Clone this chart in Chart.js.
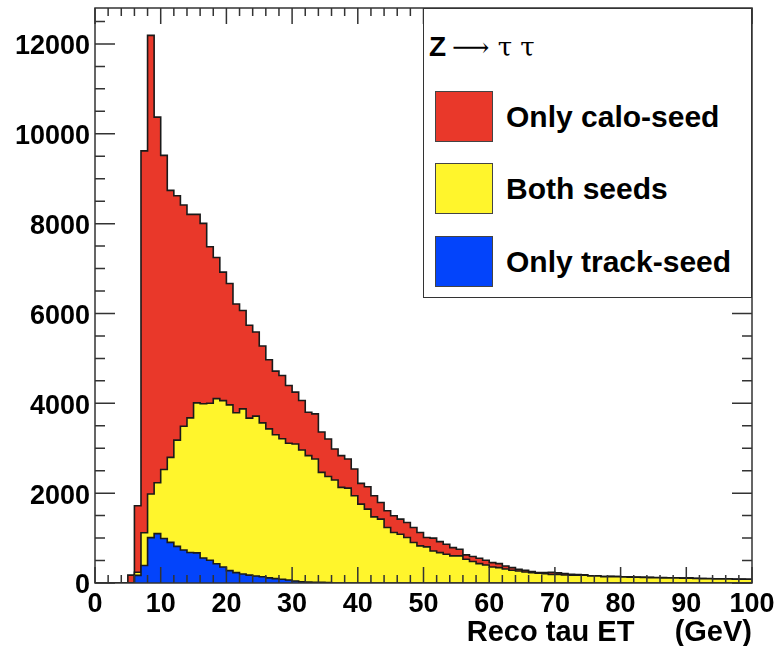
<!DOCTYPE html>
<html>
<head>
<meta charset="utf-8">
<script src="https://cdn.jsdelivr.net/npm/chart.js@4.4.0/dist/chart.umd.min.js"></script>
<style>
  body { margin: 0; background: #fff; }
  #wrap { position: relative; width: 778px; height: 646px; }
  #legend {
    position: absolute; left: 423px; top: 8px; width: 329px; height: 290px;
    box-sizing: border-box; border: 1.5px solid #333; background: #fff;
    font-family: "Liberation Sans", Arial, sans-serif; color: #000;
  }
  #legend .head { position: absolute; left: 5px; top: 22px; font-size: 28px; line-height: 32px; white-space: nowrap; }
  #legend .head b { font-weight: bold; }
  #legend .head span { font-family: "DejaVu Serif", serif; font-size: 26px; margin-left: 6px; }
  #legend .row { position: absolute; left: 11px; height: 51px; }
  #legend .sw { position: absolute; left: 0; top: 0; width: 58px; height: 51px; box-sizing: border-box; border: 1px solid #444; }
  #legend .txt { position: absolute; left: 71px; top: 0; line-height: 51px; font-size: 30px; font-weight: bold; white-space: nowrap; }
</style>
</head>
<body>
<div id="wrap">
  <canvas id="tauChart" width="778" height="646"></canvas>
  <div id="legend"></div>
</div>
<script>
// counts per 1 GeV bin of reconstructed tau ET, bins 0-1 ... 99-100 GeV
const caloOnly = [
  0, 0, 0, 0, 0, 175, 1480, 8500, 10210, 8140,
  6995, 5943, 5440, 4925, 4529, 4195, 4015, 3485, 3140, 2860,
  2701, 2420, 2188, 2067, 1873, 1710, 1540, 1417, 1410, 1287,
  1153, 1101, 966, 1005, 897, 837, 692, 707, 647, 595,
  461, 499, 469, 372, 372, 373, 335, 335, 335, 297,
  208, 284, 245, 223, 185, 148, 97, 110, 120, 104,
  97, 89, 66, 59, 37, 38, 23, 14, 27, 47,
  32, 30, 22, 19, 14, 6, 5, 3, 6, 4,
  2, 8, 3, 2, 5, 1, 4, 3, 6, 2,
  9, 3, 1, 4, 2, 5, 3, 2, 4, 1
];
const bothSeeds = [
  0, 0, 0, 0, 0, 0, 70, 730, 970, 1130,
  1535, 1892, 2365, 2755, 2996, 3340, 3434, 3495, 3675, 3705,
  3690, 3560, 3677, 3495, 3559, 3425, 3315, 3203, 3128, 3043,
  3050, 2936, 2815, 2742, 2448, 2360, 2292, 2128, 2113, 1942,
  1756, 1644, 1473, 1421, 1235, 1123, 1086, 1012, 900, 826,
  804, 714, 677, 640, 603, 603, 528, 480, 431, 402,
  357, 342, 313, 283, 268, 245, 230, 216, 208, 193,
  193, 178, 171, 171, 171, 156, 156, 141, 141, 141,
  134, 130, 128, 125, 120, 118, 115, 112, 110, 108,
  105, 100, 98, 95, 92, 90, 88, 85, 84, 82
];
const trackOnly = [
  0, 0, 0, 0, 0, 0, 170, 390, 1010, 1100,
  990, 905, 815, 735, 680, 670, 556, 505, 430, 355,
  275, 230, 200, 175, 156, 140, 115, 97, 82, 67,
  45, 25, 20, 18, 15, 10, 0, 0, 0, 0,
  0, 0, 0, 0, 0, 0, 0, 0, 0, 0,
  0, 0, 0, 0, 0, 0, 0, 0, 0, 0,
  0, 0, 0, 0, 0, 0, 0, 0, 0, 0,
  0, 0, 0, 0, 0, 0, 0, 0, 0, 0,
  0, 0, 0, 0, 0, 0, 0, 0, 0, 0,
  0, 0, 0, 0, 0, 0, 0, 0, 0, 0
];
const binLow = 0, binWidth = 1;
const xTickValues = [0, 10, 20, 30, 40, 50, 60, 70, 80, 90, 100];
const yTickValues = [0, 2000, 4000, 6000, 8000, 10000, 12000];

const series = [
  { label: 'Only calo-seed', color: '#e9382a' },
  { label: 'Both seeds', color: '#fff52c' },
  { label: 'Only track-seed', color: '#0344fb' }
];

// stacked tops: each histogram is drawn from 0 up to the sum of itself and those below it
const trackTop = trackOnly.slice();
const bothTop = bothSeeds.map((v, i) => v + trackTop[i]);
const caloTop = caloOnly.map((v, i) => v + bothTop[i]);

// points on the lower bin edges, plus the closing upper edge
function histPoints(vals) {
  const pts = vals.map((v, i) => ({ x: binLow + i * binWidth, y: v }));
  pts.push({ x: binLow + vals.length * binWidth, y: vals[vals.length - 1] });
  return pts;
}

function histDataset(s, vals, order) {
  return {
    label: s.label,
    data: histPoints(vals),
    stepped: 'before',
    fill: 'origin',
    backgroundColor: s.color,
    borderColor: '#1a1a1a',
    borderWidth: 1.6,
    pointRadius: 0,
    order: order
  };
}

// ROOT style frame with inward ticks on all four sides
const frameTicks = {
  id: 'frameTicks',
  afterDatasetsDraw(chart) {
    const { ctx, chartArea: a, scales: { x, y } } = chart;
    ctx.save();
    ctx.strokeStyle = '#333';
    ctx.lineWidth = 1.5;
    ctx.beginPath();
    for (let v = x.min; v <= x.max; v += 2) {
      const px = x.getPixelForValue(v);
      const len = xTickValues.includes(v) ? 16 : 8;
      ctx.moveTo(px, a.bottom); ctx.lineTo(px, a.bottom - len);
      ctx.moveTo(px, a.top); ctx.lineTo(px, a.top + len);
    }
    for (let v = 0; v <= y.max; v += 500) {
      const py = y.getPixelForValue(v);
      const len = yTickValues.includes(v) ? 20 : 10;
      ctx.moveTo(a.left, py); ctx.lineTo(a.left + len, py);
      ctx.moveTo(a.right, py); ctx.lineTo(a.right - len, py);
    }
    ctx.stroke();
    ctx.strokeRect(a.left, a.top, a.right - a.left, a.bottom - a.top);
    ctx.restore();
  }
};

Chart.defaults.font.family = "'Liberation Sans', Arial, sans-serif";
Chart.defaults.color = '#000';

new Chart(document.getElementById('tauChart'), {
  type: 'line',
  data: {
    datasets: [
      histDataset(series[0], caloTop, 3),
      histDataset(series[1], bothTop, 2),
      histDataset(series[2], trackTop, 1)
    ]
  },
  options: {
    responsive: false,
    animation: false,
    layout: { padding: { left: 0, right: 26, top: 8, bottom: 0 } },
    plugins: { legend: { display: false }, tooltip: { enabled: false } },
    scales: {
      x: {
        type: 'linear',
        min: 0,
        max: 100,
        grid: { display: false, drawTicks: false },
        border: { display: false },
        ticks: {
          autoSkip: false,
          maxRotation: 0,
          padding: 5,
          font: { size: 27, weight: 'bold' },
          callback: v => String(v)
        },
        afterBuildTicks: s => { s.ticks = xTickValues.map(v => ({ value: v })); },
        title: {
          display: true,
          text: 'Reco tau ET     (GeV)',
          align: 'end',
          font: { size: 29, weight: 'bold' },
          padding: { top: 0, bottom: -4 }
        },
        afterFit: s => { s.height = 63; s.paddingLeft = 0; s.paddingRight = 0; }
      },
      y: {
        type: 'linear',
        min: 0,
        max: 12800,
        grid: { display: false, drawTicks: false },
        border: { display: false },
        ticks: {
          autoSkip: false,
          padding: 5,
          labelOffset: 3,
          font: { size: 27, weight: 'bold' },
          callback: v => String(v)
        },
        afterBuildTicks: s => { s.ticks = yTickValues.map(v => ({ value: v })); },
        afterFit: s => { s.width = 95; s.paddingTop = 0; s.paddingBottom = 0; }
      }
    }
  },
  plugins: [frameTicks]
});

// legend box with the process title
const legend = document.getElementById('legend');
legend.innerHTML = '<div class="head"><b>Z</b><span>\u27f6 \u03c4 \u03c4</span></div>';
series.forEach((s, i) => {
  const row = document.createElement('div');
  row.className = 'row';
  row.style.top = (82 + i * 72.3) + 'px';
  row.innerHTML = '<div class="sw" style="background:' + s.color + '"></div><div class="txt">' + s.label + '</div>';
  legend.appendChild(row);
});
</script>
</body>
</html>
